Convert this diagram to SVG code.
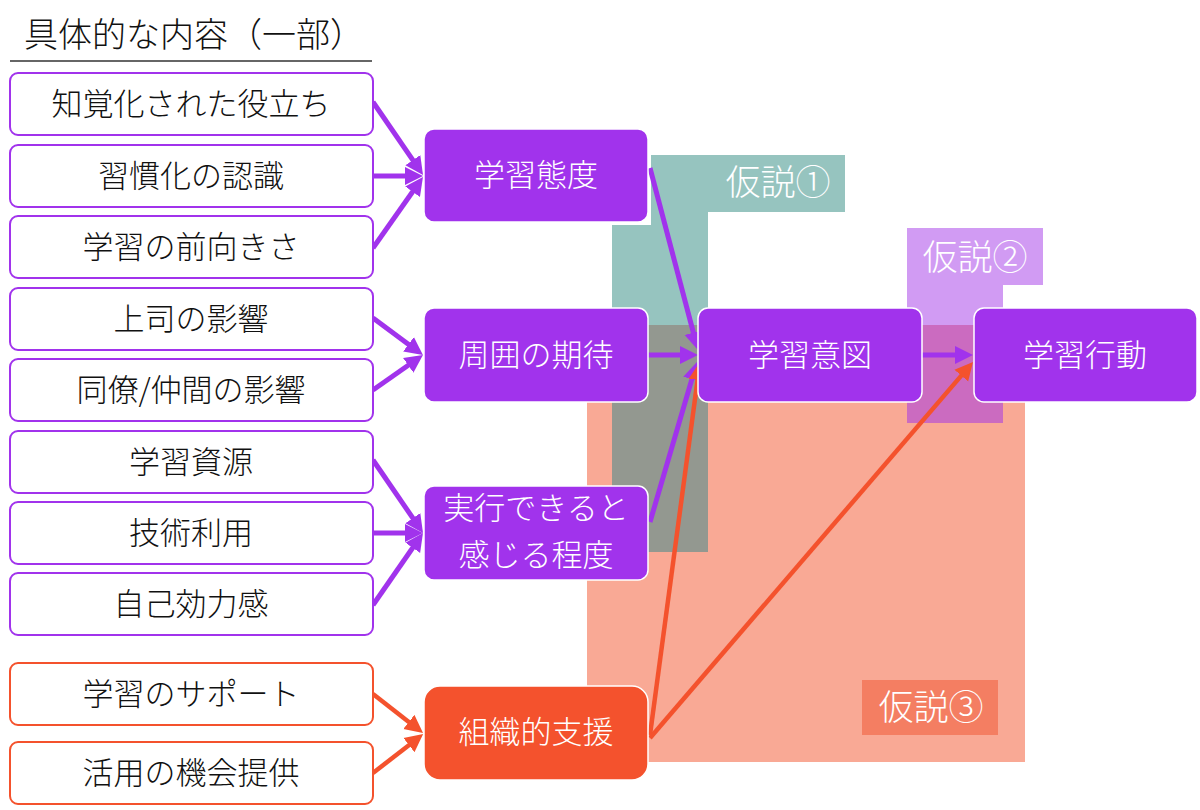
<svg xmlns="http://www.w3.org/2000/svg" width="1200" height="810" viewBox="0 0 1200 810">
<style>
text{font-family:"Noto Sans CJK JP","Noto Sans CJK SC",sans-serif;font-weight:300}
.lt{font-size:31px;fill:#111;text-anchor:middle}
.wt{font-size:31px;fill:#fff;text-anchor:middle}
.ht{font-size:35px;fill:#fff;text-anchor:middle}
.lb{fill:#fff;stroke:#A133EC;stroke-width:2}
.lbo{fill:#fff;stroke:#F4522D;stroke-width:2}
.mb{fill:#A133EC;stroke:#fff;stroke-width:1.5}
.ob{fill:#F4522D;stroke:#fff;stroke-width:1.5}
.cp{stroke:#A133EC;stroke-width:5;fill:none}
.co{stroke:#F4522D;stroke-width:4.5;fill:none}
</style>
<defs>
<marker id="ap" viewBox="0 -10 20 20" refX="4" refY="0" markerWidth="20" markerHeight="20" markerUnits="userSpaceOnUse" orient="auto"><path d="M0,-9 L18,0 L0,9 z" fill="#A133EC"/></marker>
<marker id="ao" viewBox="0 -10 20 20" refX="4" refY="0" markerWidth="20" markerHeight="20" markerUnits="userSpaceOnUse" orient="auto"><path d="M0,-9 L18,0 L0,9 z" fill="#F4522D"/></marker>
</defs>
<rect width="1200" height="810" fill="#fff"/>

<g id="hypothesis-regions">
<polygon points="651,155 845,155 845,212 708,212 708,552 612,552 612,225 651,225" fill="#96C4BF"/>
<polygon points="907,228 1043,228 1043,285 1003,285 1003,423 907,423" fill="#D19BF3"/>
<rect x="587" y="325" width="438" height="437" fill="#F9A995"/>
<rect x="612" y="325" width="96" height="227" fill="#939890"/>
<rect x="907" y="325" width="96" height="98" fill="#CB6BC0"/>
<rect x="862" y="680" width="136" height="55" fill="#F47E62"/>
<text class="ht" x="778" y="195">仮説①</text>
<text class="ht" x="975" y="270">仮説②</text>
<text class="ht" x="931" y="720">仮説③</text>
</g>

<g id="title">
<text x="24" y="47" style="font-size:34px;fill:#111">具体的な内容（一部）</text>
<line x1="10" y1="61" x2="372" y2="61" stroke="#333" stroke-width="1.5"/>
</g>

<g id="connectors">
<line class="cp" x1="373" y1="102" x2="415.1" y2="163.4" marker-end="url(#ap)"/>
<line class="cp" x1="373" y1="176" x2="409" y2="176" marker-end="url(#ap)"/>
<line class="cp" x1="373" y1="248" x2="414.9" y2="188.5" marker-end="url(#ap)"/>
<line class="cp" x1="373" y1="318" x2="411.7" y2="346.7" marker-end="url(#ap)"/>
<line class="cp" x1="373" y1="390" x2="411.5" y2="363" marker-end="url(#ap)"/>
<line class="cp" x1="373" y1="460" x2="415.1" y2="521.4" marker-end="url(#ap)"/>
<line class="cp" x1="373" y1="533" x2="409" y2="533" marker-end="url(#ap)"/>
<line class="cp" x1="373" y1="605" x2="415" y2="544.5" marker-end="url(#ap)"/>
<line class="co" x1="373" y1="694" x2="412" y2="724.4" marker-end="url(#ao)"/>
<line class="co" x1="373" y1="773" x2="412.1" y2="742.7" marker-end="url(#ao)"/>
<line class="cp" x1="650" y1="168" x2="694.4" y2="336.5" marker-end="url(#ap)"/>
<line class="cp" x1="648" y1="355" x2="684" y2="355" marker-end="url(#ap)"/>
<line class="cp" x1="650" y1="522" x2="693" y2="375.4" marker-end="url(#ap)"/>
<line class="co" x1="650" y1="735" x2="698.1" y2="375.9" marker-end="url(#ao)"/>
<line class="co" x1="650" y1="738" x2="963.9" y2="372.6" marker-end="url(#ao)"/>
<line class="cp" x1="922" y1="355" x2="959" y2="355" marker-end="url(#ap)"/>
</g>

<g id="n1"><rect class="lb" x="10" y="73" width="363" height="62" rx="8"/><text class="lt" x="191" y="115">知覚化された役立ち</text></g>
<g id="n2"><rect class="lb" x="10" y="145" width="363" height="62" rx="8"/><text class="lt" x="191" y="187">習慣化の認識</text></g>
<g id="n3"><rect class="lb" x="10" y="216" width="363" height="62" rx="8"/><text class="lt" x="191" y="258">学習の前向きさ</text></g>
<g id="n4"><rect class="lb" x="10" y="288" width="363" height="62" rx="8"/><text class="lt" x="191" y="330">上司の影響</text></g>
<g id="n5"><rect class="lb" x="10" y="359" width="363" height="62" rx="8"/><text class="lt" x="191" y="401">同僚/仲間の影響</text></g>
<g id="n6"><rect class="lb" x="10" y="431" width="363" height="62" rx="8"/><text class="lt" x="191" y="473">学習資源</text></g>
<g id="n7"><rect class="lb" x="10" y="502" width="363" height="62" rx="8"/><text class="lt" x="191" y="544">技術利用</text></g>
<g id="n8"><rect class="lb" x="10" y="573" width="363" height="62" rx="8"/><text class="lt" x="191" y="615">自己効力感</text></g>
<g id="n9"><rect class="lbo" x="10" y="663" width="363" height="62" rx="8"/><text class="lt" x="191" y="705">学習のサポート</text></g>
<g id="n10"><rect class="lbo" x="10" y="742" width="363" height="62" rx="8"/><text class="lt" x="191" y="784">活用の機会提供</text></g>

<g id="attitude"><rect class="mb" x="424" y="129" width="224" height="93" rx="10"/><text class="wt" x="536" y="186">学習態度</text></g>
<g id="expectation"><rect class="mb" x="424" y="308" width="224" height="94" rx="10"/><text class="wt" x="536" y="366">周囲の期待</text></g>
<g id="efficacy"><rect class="mb" x="424" y="486" width="224" height="94" rx="10"/><text class="wt" x="536" y="519">実行できると</text><text class="wt" x="536" y="566">感じる程度</text></g>
<g id="support"><rect class="ob" x="424" y="686" width="224" height="94" rx="16"/><text class="wt" x="536" y="743">組織的支援</text></g>
<g id="intention"><rect class="mb" x="698" y="308" width="224" height="94" rx="10"/><text class="wt" x="810" y="366">学習意図</text></g>
<g id="behavior"><rect class="mb" x="974" y="308" width="223" height="94" rx="10"/><text class="wt" x="1085" y="366">学習行動</text></g>
</svg>
